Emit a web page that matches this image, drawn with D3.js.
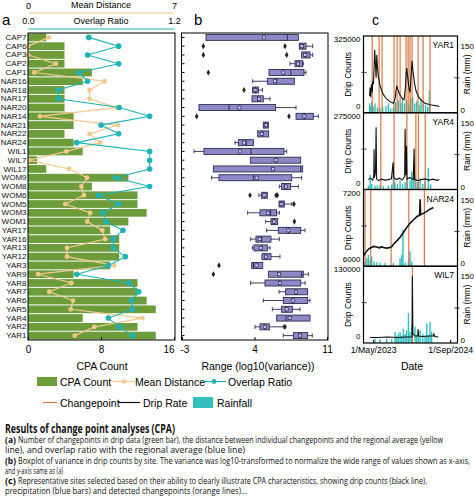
<!DOCTYPE html>
<html>
<head>
<meta charset="utf-8">
<script src="https://cdn.jsdelivr.net/npm/d3@7"></script>
<style>
  body { margin: 0; background: #fff; }
  svg { display: block; font-family: "Liberation Sans", Arial, sans-serif; }
  .caption { font-family: "Open Sans", "Noto Sans", sans-serif; }
</style>
</head>
<body>
<div id="chart"></div>
<script>
// ---- data ----
var sites = ['CAP7','CAP6','CAP3','CAP2','CAP1','NAR16','NAR18','NAR17','NAR20','NAR14','NAR21',
  'NAR22','NAR24','WIL1','WIL7','WIL17','WOM9','WOM8','WOM6','WOM5','WOM3','WOM1','YAR17','YAR16',
  'YAR13','YAR12','YAR3','YAR9','YAR8','YAR7','YAR6','YAR5','YAR4','YAR2','YAR1'];

var cpaCount = [2,4,4,4,7,6,4,4,4,5,5,4,5,6,1,2,11,7,12,12,13,11,9,10,10,10,9,5,12,12,13,14,6,12,14];
var meanDistance = [1.0,0.0,0.0,1.33,0.3,3.67,2.95,2.95,4.25,0.57,4.3,2.95,3.46,1.84,0.06,1.97,2.83,
  2.56,2.68,1.79,2.98,2.84,3.56,3.7,1.87,1.87,4.14,0.49,2.08,1.02,2.16,2.05,5.49,3.19,2.24];
var overlapRatio = [0.50,0.745,0.49,0.745,0.42,0.49,0.25,0.25,0.75,1.0,0.6,0.745,0.40,1.0,1.0,1.0,
  0.72,1.0,0.58,0.745,0.615,0.64,0.78,0.70,0.70,0.80,0.66,0.40,0.83,0.91,0.85,0.86,0.66,0.75,0.86];

// boxplot of log10(variance) per site
var varMin    = [-0.68,8.33,8.55,7.43,5.40,3.82,3.82,3.76,-1.36,8.01,4.85,4.31,2.12,-1.84,3.60,0.03,
  -0.14,6.40,4.43,6.37,3.34,5.08,5.17,3.63,3.79,4.72,3.73,5.34,3.63,6.37,4.85,5.72,6.14,4.05,6.78];
var varQ1     = [-0.68,8.33,8.55,7.91,5.40,5.24,3.82,3.76,-1.36,8.01,4.85,4.31,2.44,-0.88,3.60,0.03,
  0.57,6.62,4.69,6.37,4.53,5.59,6.30,4.14,3.95,4.72,3.73,5.34,5.01,7.01,6.78,6.62,6.14,4.53,7.75];
var varMedian = [7.17,8.65,8.94,8.30,7.50,6.14,4.10,4.30,1.54,8.81,5.10,4.80,3.20,3.66,6.10,8.46,
  3.89,6.90,4.95,6.60,5.56,5.90,7.27,4.70,4.69,5.11,3.89,8.55,6.46,8.00,7.69,7.04,7.04,5.00,8.30];
var varMean   = [4.92,8.55,8.90,8.20,6.78,5.98,4.10,4.43,2.54,8.81,5.10,4.70,3.00,2.60,6.04,5.78,
  4.21,7.04,4.95,6.60,5.30,5.90,7.27,4.50,4.60,5.11,4.20,6.37,6.46,8.00,7.69,7.10,7.40,5.00,8.40];
var varQ3     = [8.23,8.97,9.36,8.65,8.78,7.85,4.37,4.85,6.04,9.68,5.34,5.37,3.89,6.85,8.46,8.65,
  7.59,7.49,5.24,6.88,6.14,6.24,8.46,5.59,5.24,5.59,4.79,8.71,8.46,9.13,9.13,7.65,9.36,5.43,9.13];
var varMax    = [8.23,9.62,9.62,8.71,8.97,7.85,4.76,5.50,8.01,10.16,5.34,5.37,3.89,7.11,8.46,8.65,
  8.55,8.23,5.24,7.60,6.40,6.24,8.88,6.40,5.50,6.46,4.79,9.20,8.88,9.13,9.36,8.39,9.36,6.78,9.58];
var varOutliers = [[],[-0.94,6.94],[-0.94,7.11],[],[-0.46],[],[2.99],[],[],[-1.58,7.33],[],[],[],[],[],[],
  [],[],[3.57,6.08,6.2],[7.81],[],[7.85],[],[],[],[],[0.57],[0.03],[],[],[],[],[],[6.94],[]];

// panel c: representative sites
var yar1Drip = [['2023-04-08',49000],['2023-04-12',89000],['2023-04-16',41000],['2023-04-20',105000],
  ['2023-04-25',65000],['2023-04-29',120000],['2023-05-03',105000],['2023-05-07',184000],['2023-05-11',271000],
  ['2023-05-16',200000],['2023-05-20',136000],['2023-05-24',247000],['2023-05-28',192000],['2023-06-03',144000],
  ['2023-06-14',97000],['2023-06-25',73000],['2023-07-05',54000],['2023-07-26',33000],['2023-08-16',20000],
  ['2023-09-06',12000],['2023-09-17',33000],['2023-09-23',73000],['2023-09-28',97000],['2023-10-04',81000],
  ['2023-10-15',57000],['2023-10-30',38000],['2023-11-13',29000],['2023-11-22',89000],['2023-11-26',152000],
  ['2023-11-30',184000],['2023-12-07',136000],['2023-12-15',81000],['2023-12-21',65000],['2023-12-28',152000],
  ['2024-01-03',219000],['2024-01-09',168000],['2024-01-18',113000],['2024-01-28',73000],['2024-02-12',44000],
  ['2024-03-04',25000],['2024-03-25',12000],['2024-04-26',5000],['2024-05-27',1000],['2024-06-24',-3000]];
var yar1Rain = [['2023-04-08',15],['2023-04-14',9],['2023-04-22',18],['2023-05-03',7],['2023-05-13',15],
  ['2023-05-28',5],['2023-06-14',3],['2023-07-01',7],['2023-07-22',9],['2023-08-06',15],['2023-08-21',3],
  ['2023-09-06',5],['2023-09-21',18],['2023-10-08',22],['2023-10-23',15],['2023-11-02',26],['2023-11-15',15],
  ['2023-11-30',22],['2023-12-13',11],['2023-12-25',26],['2024-01-07',30],['2024-01-20',15],['2024-02-01',20],
  ['2024-02-19',11],['2024-02-29',25],['2024-03-15',15],['2024-03-29',12],['2024-04-11',7],['2024-04-22',45]];
var yar1Cp = ['2023-04-25','2023-06-08','2023-06-27','2023-09-11','2023-09-30','2023-10-19','2023-11-26',
  '2023-12-09','2023-12-21','2024-01-03','2024-02-10','2024-03-13','2024-04-26'];

var yar4Drip = [['2023-04-01',12000],['2023-04-15',18000],['2023-04-28',10000],['2023-05-05',25000],
  ['2023-05-07',137000],['2023-05-09',20000],['2023-05-16',40000],['2023-05-20',228000],['2023-05-23',15000],
  ['2023-06-05',8000],['2023-06-25',14000],['2023-07-15',10000],['2023-08-05',12000],['2023-08-25',15000],
  ['2023-09-05',83000],['2023-09-08',20000],['2023-09-25',12000],['2023-10-15',18000],['2023-11-01',10000],
  ['2023-11-17',25000],['2023-11-20',221000],['2023-11-24',30000],['2023-11-29',150000],['2023-12-02',15000],
  ['2023-12-20',20000],['2024-01-10',12000],['2024-01-16',140000],['2024-01-19',12000],['2024-02-10',8000],
  ['2024-03-01',12000],['2024-03-25',15000],['2024-04-20',10000],['2024-05-15',14000],['2024-06-10',9000],
  ['2024-06-24',12000]];
var yar4Rain = [['2023-04-01',2],['2023-04-12',27],['2023-04-22',6],['2023-05-13',2],['2023-05-28',2],
  ['2023-06-14',4],['2023-07-05',1],['2023-08-06',2],['2023-08-27',5],['2023-09-06',53],['2023-09-17',10],
  ['2023-10-02',6],['2023-10-19',14],['2023-11-04',5],['2023-11-20',10],['2023-12-04',19],['2023-12-21',14],
  ['2024-01-01',35],['2024-01-11',22],['2024-01-22',27],['2024-02-06',10],['2024-02-23',19],['2024-03-11',6],
  ['2024-03-25',14],['2024-04-15',43],['2024-04-30',5]];
var yar4Cp = ['2023-06-19','2023-09-11','2023-12-01','2024-01-27','2024-02-12','2024-03-26'];

var nar24Drip = [['2023-03-01',6060],['2023-03-12',6110],['2023-03-22',6150],['2023-04-05',6190],
  ['2023-04-23',6215],['2023-05-05',6230],['2023-05-24',6220],['2023-06-10',6205],['2023-06-25',6225],
  ['2023-07-05',6210],['2023-07-25',6200],['2023-08-17',6210],['2023-08-30',6235],['2023-09-07',6270],
  ['2023-09-28',6330],['2023-10-19',6395],['2023-11-09',6480],['2023-11-30',6570],['2023-12-21',6645],
  ['2024-01-11',6705],['2024-02-02',6765],['2024-02-20',6795],['2024-02-23',7080],['2024-02-26',6800],
  ['2024-03-15',6825],['2024-04-05',6860],['2024-04-26',6900],['2024-05-17',6930]];
var nar24Rain = [['2023-03-11',3],['2023-03-22',12],['2023-04-01',20],['2023-04-12',8],['2023-04-22',16],
  ['2023-05-07',4],['2023-05-24',2],['2023-06-14',1],['2023-07-16',1],['2023-09-06',1],['2023-10-19',12],
  ['2023-10-30',20],['2023-11-06',79],['2023-11-20',2],['2023-12-11',8],['2023-12-21',28],['2024-01-01',4]];
var nar24Cp = ['2023-03-11','2023-04-16','2023-08-23','2023-12-13','2024-03-21'];

var wil7Drip = [['2023-04-12',-3000],['2023-06-01',-3000],['2023-08-01',-2000],['2023-10-01',-3000],
  ['2023-12-01',-2000],['2024-01-03',-2000],['2024-01-05',117000],['2024-01-08',5000],['2024-01-20',0],
  ['2024-02-08',0],['2024-02-10',13000],['2024-02-14',0],['2024-03-10',-1000],['2024-04-20',0],
  ['2024-05-18',0],['2024-05-20',5000],['2024-05-25',-1000],['2024-06-18',-2000]];
var wil7Rain = [['2023-05-13',3],['2023-06-14',2],['2023-07-26',3],['2023-08-27',2],['2023-09-17',19],
  ['2023-09-28',10],['2023-10-08',14],['2023-10-19',19],['2023-10-30',10],['2023-11-09',27],['2023-11-20',14],
  ['2023-11-30',23],['2023-12-11',63],['2023-12-21',19],['2024-01-01',35],['2024-01-22',31],['2024-02-01',12],
  ['2024-02-12',19],['2024-02-23',23],['2024-03-11',14],['2024-03-25',10],['2024-04-05',39],['2024-04-15',12],
  ['2024-04-26',43],['2024-05-06',19]];
var wil7Cp = ['2024-01-05'];

var cSites = ['YAR1','YAR4','NAR24','WIL7'];
var cDripLow = [0, 0, 6000, 0];
var cDripHigh = [325000, 275000, 7200, 130000];
var cDrip = [yar1Drip, yar4Drip, nar24Drip, wil7Drip];
var cRain = [yar1Rain, yar4Rain, nar24Rain, wil7Rain];
var cChange = [yar1Cp, yar4Cp, nar24Cp, wil7Cp];
var dateTicks = ['2023-05-01', '2024-09-01'];

// ---- colours ----
var green = '#6c9d3a';
var peach = '#f3c88f';
var teal = '#1fb3b5';
var boxFill = '#8d89c7';
var boxLine = '#2d2b50';
var cpOrange = '#d9773f';
var rainTeal = '#2fc0bf';

var parseDate = d3.timeParse('%Y-%m-%d');

var svg = d3.select('#chart').append('svg')
  .attr('width', 474)
  .attr('height', 497);

var plotTop = 33, plotBottom = 340;

// ---- panel a ----
var yBand = d3.scaleBand().domain(sites).range([plotTop, plotBottom]);
var xCount = d3.scaleLinear().domain([0, 16]).range([28, 174]);
var xDist = d3.scaleLinear().domain([0, 7]).range([28, 174]);
var xOver = d3.scaleLinear().domain([0, 1.2]).range([28, 174]);

function rowY(i) { return yBand(sites[i]) + yBand.bandwidth() / 2; }

var panelA = svg.append('g').attr('class', 'panel-a');

panelA.selectAll('rect.bar').data(cpaCount)
  .enter().append('rect')
  .attr('class', 'bar')
  .attr('x', xCount(0))
  .attr('y', function(d, i) { return yBand(sites[i]) + 0.5; })
  .attr('width', function(d) { return xCount(d) - xCount(0); })
  .attr('height', yBand.bandwidth() - 1)
  .attr('fill', green);

var distLine = d3.line()
  .x(function(d) { return xDist(d); })
  .y(function(d, i) { return rowY(i); });
panelA.append('path').datum(meanDistance)
  .attr('d', distLine)
  .attr('fill', 'none')
  .attr('stroke', peach)
  .attr('stroke-width', 1.2);
panelA.selectAll('circle.dist').data(meanDistance)
  .enter().append('circle')
  .attr('class', 'dist')
  .attr('cx', function(d) { return xDist(d); })
  .attr('cy', function(d, i) { return rowY(i); })
  .attr('r', 2.4)
  .attr('fill', peach);

var overLine = d3.line()
  .x(function(d) { return xOver(d); })
  .y(function(d, i) { return rowY(i); });
panelA.append('path').datum(overlapRatio)
  .attr('d', overLine)
  .attr('fill', 'none')
  .attr('stroke', teal)
  .attr('stroke-width', 1.1);
panelA.selectAll('circle.over').data(overlapRatio)
  .enter().append('circle')
  .attr('class', 'over')
  .attr('cx', function(d) { return xOver(d); })
  .attr('cy', function(d, i) { return rowY(i); })
  .attr('r', 2.8)
  .attr('fill', teal);

panelA.append('rect')
  .attr('x', 28).attr('y', plotTop)
  .attr('width', 147).attr('height', plotBottom - plotTop)
  .attr('fill', 'none').attr('stroke', '#000').attr('stroke-width', 1);

var leftAxis = panelA.append('g')
  .attr('transform', 'translate(28,0)')
  .call(d3.axisLeft(yBand).tickSize(0).tickPadding(1.5));
leftAxis.select('.domain').remove();
leftAxis.selectAll('text').attr('font-size', 8).attr('font-family', null).attr('fill', '#111');

var bottomA = panelA.append('g')
  .attr('transform', 'translate(0,' + plotBottom + ')')
  .call(d3.axisBottom(xCount).tickValues([0, 8, 16]).tickSizeInner(-3).tickSizeOuter(0).tickPadding(5.5));
bottomA.select('.domain').remove();
bottomA.selectAll('text').attr('font-size', 10).attr('font-family', null);
// the last label sits inside the frame, as in the reference
bottomA.selectAll('.tick').filter(function(d) { return d === 16; }).select('text')
  .attr('text-anchor', 'end').attr('x', 0);

// top axes of panel a
var topDist = panelA.append('g')
  .attr('transform', 'translate(0,12.5)')
  .call(d3.axisTop(xDist).tickValues([0, 7]).tickFormat(d3.format('d'))
    .tickSizeInner(0).tickSizeOuter(0).tickPadding(4));
topDist.select('.domain').attr('stroke', peach).attr('stroke-width', 1.2);
topDist.selectAll('text').attr('font-size', 9).attr('font-family', null);

var topOver = panelA.append('g')
  .attr('transform', 'translate(0,28.5)')
  .call(d3.axisTop(xOver).tickValues([0, 1.2]).tickFormat(d3.format('.1f'))
    .tickSizeInner(0).tickSizeOuter(0).tickPadding(5));
topOver.select('.domain').attr('stroke', teal).attr('stroke-width', 1.2);
topOver.selectAll('text').attr('font-size', 9).attr('font-family', null);

panelA.append('text').attr('x', 101).attr('y', 8).attr('text-anchor', 'middle')
  .attr('font-size', 9).text('Mean Distance');
panelA.append('text').attr('x', 101).attr('y', 23.5).attr('text-anchor', 'middle')
  .attr('font-size', 9).text('Overlap Ratio');

panelA.append('text').attr('x', 102).attr('y', 370).attr('text-anchor', 'middle')
  .attr('font-size', 10.5).text('CPA Count');

// ---- panel b ----
var xVar = d3.scaleLinear().domain([-3, 11]).range([182, 327]);
var panelB = svg.append('g').attr('class', 'panel-b');
var boxH = 6;

sites.forEach(function(s, i) {
  var cy = rowY(i);
  var g = panelB.append('g');
  if (varMin[i] < varQ1[i]) {
    g.append('line').attr('x1', xVar(varMin[i])).attr('x2', xVar(varQ1[i]))
      .attr('y1', cy).attr('y2', cy).attr('stroke', boxLine).attr('stroke-width', 0.9);
    g.append('line').attr('x1', xVar(varMin[i])).attr('x2', xVar(varMin[i]))
      .attr('y1', cy - 2).attr('y2', cy + 2).attr('stroke', boxLine).attr('stroke-width', 0.9);
  }
  if (varMax[i] > varQ3[i]) {
    g.append('line').attr('x1', xVar(varQ3[i])).attr('x2', xVar(varMax[i]))
      .attr('y1', cy).attr('y2', cy).attr('stroke', boxLine).attr('stroke-width', 0.9);
    g.append('line').attr('x1', xVar(varMax[i])).attr('x2', xVar(varMax[i]))
      .attr('y1', cy - 2).attr('y2', cy + 2).attr('stroke', boxLine).attr('stroke-width', 0.9);
  }
  g.append('rect')
    .attr('x', xVar(varQ1[i])).attr('y', cy - boxH / 2)
    .attr('width', xVar(varQ3[i]) - xVar(varQ1[i])).attr('height', boxH)
    .attr('fill', boxFill).attr('stroke', boxLine).attr('stroke-width', 0.9);
  g.append('line').attr('x1', xVar(varMedian[i])).attr('x2', xVar(varMedian[i]))
    .attr('y1', cy - boxH / 2).attr('y2', cy + boxH / 2)
    .attr('stroke', boxLine).attr('stroke-width', 1);
  g.append('rect')
    .attr('x', xVar(varMean[i]) - 1.6).attr('y', cy - 1.6)
    .attr('width', 3.2).attr('height', 3.2)
    .attr('fill', '#c9c6ea').attr('stroke', boxLine).attr('stroke-width', 0.7);
  g.selectAll('path.out').data(varOutliers[i])
    .enter().append('path')
    .attr('class', 'out')
    .attr('transform', function(d) { return 'translate(' + xVar(d) + ',' + cy + ')'; })
    .attr('d', d3.symbol().type(d3.symbolDiamond).size(11))
    .attr('fill', '#222');
});

panelB.append('rect')
  .attr('x', 181.5).attr('y', plotTop)
  .attr('width', 146.5).attr('height', plotBottom - plotTop)
  .attr('fill', 'none').attr('stroke', '#000').attr('stroke-width', 1);

var leftB = panelB.append('g')
  .attr('transform', 'translate(181.5,0)')
  .call(d3.axisLeft(yBand).tickSize(-3).tickFormat(''));
leftB.select('.domain').remove();

var bottomB = panelB.append('g')
  .attr('transform', 'translate(0,' + plotBottom + ')')
  .call(d3.axisBottom(xVar).tickValues([-3, 4, 11]).tickFormat(function(d) { return String(d); })
    .tickSizeInner(-3).tickSizeOuter(0).tickPadding(5.5));
bottomB.select('.domain').remove();
bottomB.selectAll('text').attr('font-size', 10).attr('font-family', null);
bottomB.selectAll('.tick').filter(function(d) { return d === -3; }).select('text')
  .attr('text-anchor', 'start').attr('x', -2);

panelB.append('text').attr('x', 258).attr('y', 370).attr('text-anchor', 'middle')
  .attr('font-size', 10.5).text('Range (log10(variance))');

// ---- panel c ----
var xTime = d3.scaleTime()
  .domain([parseDate('2023-03-01'), parseDate('2024-10-17')])
  .range([363.5, 457.5]);
var cTop = 36, cH = 76.75;
var panelC = svg.append('g').attr('class', 'panel-c');

cSites.forEach(function(name, k) {
  var y0 = cTop + k * cH, y1 = y0 + cH;
  var g = panelC.append('g');
  var yDrip = d3.scaleLinear().domain([cDripLow[k], cDripHigh[k]]).range([y1 - 7, y0 + 3]);
  var yRain = d3.scaleLinear().domain([0, 150]).range([y1 - 3, y0 + 10]);

  var clipId = 'clip' + k;
  g.append('clipPath').attr('id', clipId).append('rect')
    .attr('x', 363.5).attr('y', y0).attr('width', 94).attr('height', cH);
  var inner = g.append('g').attr('clip-path', 'url(#' + clipId + ')');

  inner.selectAll('rect.rain').data(cRain[k])
    .enter().append('rect')
    .attr('class', 'rain')
    .attr('x', function(d) { return xTime(parseDate(d[0])) - 0.7; })
    .attr('y', function(d) { return yRain(d[1]); })
    .attr('width', 1.4)
    .attr('height', function(d) { return y1 - yRain(d[1]); })
    .attr('fill', rainTeal);

  inner.selectAll('line.cp').data(cChange[k])
    .enter().append('line')
    .attr('class', 'cp')
    .attr('x1', function(d) { return xTime(parseDate(d)); })
    .attr('x2', function(d) { return xTime(parseDate(d)); })
    .attr('y1', y0).attr('y2', y1)
    .attr('stroke', cpOrange).attr('stroke-width', 1.2);

  var dripLine = d3.line()
    .x(function(d) { return xTime(parseDate(d[0])); })
    .y(function(d) { return yDrip(d[1]); });
  inner.append('path').datum(cDrip[k])
    .attr('d', dripLine)
    .attr('fill', 'none')
    .attr('stroke', '#111')
    .attr('stroke-width', k === 2 ? 1.6 : 1.1);

  g.append('rect')
    .attr('x', 363.5).attr('y', y0).attr('width', 94).attr('height', cH)
    .attr('fill', 'none').attr('stroke', '#000').attr('stroke-width', 1.2);

  var lAxis = g.append('g')
    .attr('transform', 'translate(363.5,0)')
    .call(d3.axisLeft(yDrip).tickValues([cDripLow[k], cDripHigh[k]]).tickFormat(d3.format('d'))
      .tickSize(0).tickPadding(3));
  lAxis.select('.domain').remove();
  lAxis.selectAll('text').attr('font-size', 8).attr('font-family', null);

  var rAxis = g.append('g')
    .attr('transform', 'translate(457.5,0)')
    .call(d3.axisRight(yRain).tickValues([0, 150]).tickSize(0).tickPadding(3));
  rAxis.select('.domain').remove();
  rAxis.selectAll('text').attr('font-size', 8).attr('font-family', null);

  var midDrip = yDrip((cDripLow[k] + cDripHigh[k]) / 2);
  var midRain = yRain(75);
  g.append('line').attr('x1', 361.5).attr('x2', 366.5).attr('y1', midDrip).attr('y2', midDrip)
    .attr('stroke', '#000').attr('stroke-width', 0.8);
  g.append('line').attr('x1', 454.5).attr('x2', 459.5).attr('y1', midRain).attr('y2', midRain)
    .attr('stroke', '#000').attr('stroke-width', 0.8);

  g.append('text').attr('x', 454).attr('y', y0 + 12).attr('text-anchor', 'end')
    .attr('font-size', 8.5).text(name);

  var yc = (y0 + y1) / 2;
  g.append('text').attr('transform', 'translate(351,' + yc + ') rotate(-90)')
    .attr('text-anchor', 'middle').attr('font-size', 8.5).text('Drip Counts');
  g.append('text').attr('transform', 'translate(470,' + yc + ') rotate(-90)')
    .attr('text-anchor', 'middle').attr('font-size', 8.5).text('Rain (mm)');
});

var fmtDate = d3.timeFormat('%-d/%b/%Y');
var bottomC = panelC.append('g')
  .attr('transform', 'translate(0,' + (cTop + 4 * cH) + ')')
  .call(d3.axisBottom(xTime).tickValues(dateTicks.map(parseDate)).tickFormat(fmtDate)
    .tickSizeInner(-3).tickSizeOuter(0).tickPadding(3.5));
bottomC.select('.domain').remove();
bottomC.selectAll('text').attr('font-size', 8.8).attr('font-family', null);

panelC.append('text').attr('x', 412).attr('y', 370).attr('text-anchor', 'middle')
  .attr('font-size', 10.5).text('Date');

// panel letters
svg.append('text').attr('x', 2).attr('y', 25).attr('font-size', 15).text('a');
svg.append('text').attr('x', 194).attr('y', 25).attr('font-size', 15).text('b');
svg.append('text').attr('x', 372).attr('y', 24.5).attr('font-size', 14).text('c');

// ---- legend ----
var legend = svg.append('g').attr('class', 'legend').attr('font-size', 10.5);
legend.append('rect').attr('x', 37).attr('y', 377).attr('width', 20).attr('height', 9).attr('fill', green);
legend.append('text').attr('x', 60).attr('y', 385.5).text('CPA Count');
legend.append('line').attr('x1', 113).attr('x2', 135).attr('y1', 381.5).attr('y2', 381.5)
  .attr('stroke', peach).attr('stroke-width', 1.2);
legend.append('circle').attr('cx', 124).attr('cy', 381.5).attr('r', 2.2).attr('fill', peach);
legend.append('text').attr('x', 135).attr('y', 385.5).text('Mean Distance');
legend.append('line').attr('x1', 203).attr('x2', 226).attr('y1', 381.5).attr('y2', 381.5)
  .attr('stroke', teal).attr('stroke-width', 1.2);
legend.append('circle').attr('cx', 214).attr('cy', 381.5).attr('r', 2.4).attr('fill', teal);
legend.append('text').attr('x', 228).attr('y', 385.5).text('Overlap Ratio');

legend.append('line').attr('x1', 43).attr('x2', 57).attr('y1', 402.5).attr('y2', 402.5)
  .attr('stroke', cpOrange).attr('stroke-width', 1.2);
legend.append('text').attr('x', 60).attr('y', 406.5).text('Changepoint');
legend.append('line').attr('x1', 118).attr('x2', 140).attr('y1', 402.5).attr('y2', 402.5)
  .attr('stroke', '#111').attr('stroke-width', 1.2);
legend.append('text').attr('x', 143).attr('y', 406.5).text('Drip Rate');
legend.append('rect').attr('x', 193).attr('y', 397).attr('width', 20).attr('height', 11).attr('fill', rainTeal);
legend.append('text').attr('x', 217).attr('y', 406.5).text('Rainfall');

// ---- caption ----
var caption = svg.append('g').attr('class', 'caption').attr('fill', '#111');
caption.append('text').attr('x', 5).attr('y', 432.5)
  .attr('font-size', 11.5).attr('font-weight', 'bold')
  .attr('textLength', 170).attr('lengthAdjust', 'spacingAndGlyphs')
  .text('Results of change point analyses (CPA)');

var captionLabels = ['(a)', '', '(b)', '', '(c)', ''];
var captionText = [
  'Number of changepoints in drip data (green bar), the distance between individual changepoints and the regional average (yellow',
  'line), and overlap ratio with the regional average (blue line)',
  'Boxplot of variance in drip counts by site. The variance was log10-transformed to normalize the wide range of values shown as x-axis,',
  'and y-axis same as (a)',
  'Representative sites selected based on their ability to clearly illustrate CPA characteristics, showing drip counts (black line),',
  'precipitation (blue bars) and detected changepoints (orange lines)...'
];
var captionEnd = [443, 245, 470, 63, 427, 247];
var captionY = [443, 453, 464, 473.5, 484, 494];

captionText.forEach(function(line, i) {
  var x0 = 5;
  if (captionLabels[i]) {
    caption.append('text').attr('x', 5).attr('y', captionY[i])
      .attr('font-size', 8.5).attr('font-weight', 'bold')
      .attr('textLength', 11).attr('lengthAdjust', 'spacingAndGlyphs')
      .text(captionLabels[i]);
    x0 = 18;
  }
  caption.append('text').attr('x', x0).attr('y', captionY[i])
    .attr('font-size', 8.5)
    .attr('textLength', captionEnd[i] - x0).attr('lengthAdjust', 'spacingAndGlyphs')
    .text(line);
});
</script>
</body>
</html>
